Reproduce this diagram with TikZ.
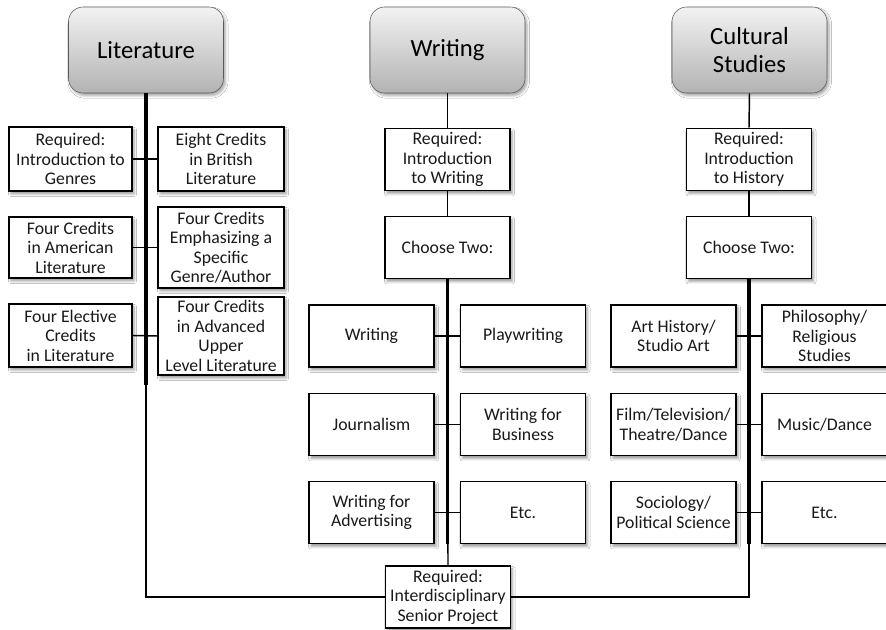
\documentclass[tikz,border=0pt]{standalone}
\usepackage{fontspec}
\setmainfont{Carlito}
\usepackage{tikz}
\usetikzlibrary{positioning,shadows.blur,calc}

\begin{document}
\begin{tikzpicture}[x=0.75pt,y=-0.75pt]
  \tikzstyle{header}=[rectangle,rounded corners=11pt,draw=black!65,top color=black!5,bottom color=black!30,
    minimum width=116.25pt,minimum height=64.5pt,align=center,inner sep=2pt,
    font=\fontsize{18.5}{20.5}\selectfont,blur shadow={shadow xshift=1.5pt,shadow yshift=-2pt,shadow opacity=35}]
  \tikzstyle{course}=[rectangle,draw=black,line width=1.3pt,fill=white,minimum width=93.75pt,minimum height=46.5pt,
    align=center,inner sep=1pt,font=\fontsize{13.3}{14.6}\selectfont,text=black!90,
    blur shadow={shadow xshift=1.5pt,shadow yshift=-2.2pt,shadow opacity=40}]
  \tikzstyle{link}=[line width=1.1pt]
  \tikzstyle{trunk}=[line width=2.4pt]
  \useasboundingbox[fill=white] (0,0) rectangle (886,630);

  % headers
  \draw (146,50) node[header] (lit){Literature};
  \draw (447.5,50) node[header] (wri){Writing};
  \draw (749.5,50) node[header] (cul){Cultural\\Studies};

  % literature
  \draw (70.5,159) node[course,minimum width=92.25pt,minimum height=48pt] (l1a){Required:\\Introduction to\\Genres};
  \draw (221,159) node[course,minimum width=94.5pt,minimum height=48pt] (l1b){Eight Credits\\in British\\Literature};
  \draw (70.5,247.5) node[course,minimum width=92.25pt,minimum height=45.75pt] (l2a){Four Credits\\in American\\Literature};
  \draw (221,247.5) node[course,minimum width=94.5pt,minimum height=60.75pt] (l2b){Four Credits\\Emphasizing a\\Specific\\Genre/Author};
  \draw (70.5,335.5) node[course,minimum width=92.25pt,minimum height=47.25pt] (l3a){Four Elective\\Credits\\in Literature};
  \draw (221,336) node[course,minimum width=94.5pt,minimum height=58.5pt] (l3b){Four Credits\\in Advanced\\Upper\\Level Literature};

  % writing
  \draw (447.5,159.5) node[course] (wreq){Required:\\Introduction\\to Writing};
  \draw (447.5,247.5) node[course] (wch){Choose Two:};
  \draw (371.5,336) node[course] (w1a){Writing};
  \draw (523,336) node[course] (w1b){Playwriting};
  \draw (371.5,424.5) node[course] (w2a){Journalism};
  \draw (523,424.5) node[course] (w2b){Writing for\\Business};
  \draw (371.5,512.5) node[course] (w3a){Writing for\\Advertising};
  \draw (523,512.5) node[course] (w3b){Etc.};

  % cultural studies
  \draw (749,159.5) node[course] (creq){Required:\\Introduction\\to History};
  \draw (749,247.5) node[course] (cch){Choose Two:};
  \draw (673.5,336) node[course] (c1a){Art History/\\Studio Art};
  \draw (824.5,336) node[course] (c1b){Philosophy/\\Religious\\Studies};
  \draw (673.5,424.5) node[course] (c2a){Film/Television/\\Theatre/Dance};
  \draw (824.5,424.5) node[course] (c2b){Music/Dance};
  \draw (673.5,512.5) node[course] (c3a){Sociology/\\Political Science};
  \draw (824.5,512.5) node[course] (c3b){Etc.};

  \draw (448,597) node[course] (sen){Required:\\Interdisciplinary\\Senior Project};

  % connectors
  \draw[link] (lit.south) |- (sen.west);
  \draw[trunk] (lit.south) -- ++(0,292);
  \draw[link] (l1a.east) -- (l1b.west);
  \draw[link] (l2a.east) -- (l2b.west);
  \draw[link] (l3a.east) -- (l3b.west);

  \draw[link] (wri.south) -- (wreq.north);
  \draw[link] (wreq.south) -- (wch.north);
  \draw[link] (wch.south) -- (sen.north);
  \draw[trunk] (wch.south) -- ++(0,265);
  \draw[link] (w1a.east) -- (w1b.west);
  \draw[link] (w2a.east) -- (w2b.west);
  \draw[link] (w3a.east) -- (w3b.west);

  \draw[link] (cul.south) -- (creq.north);
  \draw[link] (creq.south) -- (cch.north);
  \draw[link] (cch.south) |- (sen.east);
  \draw[trunk] (cch.south) -- ++(0,265);
  \draw[link] (c1a.east) -- (c1b.west);
  \draw[link] (c2a.east) -- (c2b.west);
  \draw[link] (c3a.east) -- (c3b.west);
\end{tikzpicture}
\end{document}
